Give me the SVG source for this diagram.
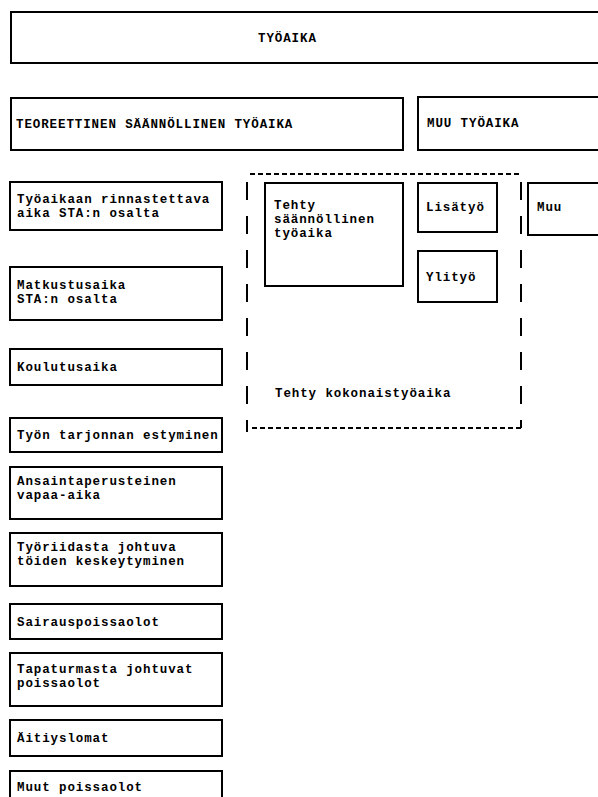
<svg xmlns="http://www.w3.org/2000/svg" width="598" height="797" viewBox="0 0 598 797">
<style>
.b{fill:none;stroke:#000;stroke-width:2}
.t{font-family:"Liberation Mono","DejaVu Sans Mono",monospace;font-size:12.5px;letter-spacing:0.9px;font-weight:bold;fill:#000}
.dh{fill:none;stroke:#000;stroke-width:2;stroke-dasharray:5 3}
.dv{fill:none;stroke:#000;stroke-width:2;stroke-dasharray:18 16}
</style>
<rect width="598" height="797" fill="#fff"/>
<g id="tyoaika"><rect class="b" x="11" y="12" width="600" height="51"/><text class="t" x="258" y="42">TYÖAIKA</text></g>
<g id="teoreettinen"><rect class="b" x="11" y="98" width="392" height="52"/><text class="t" x="16" y="128">TEOREETTINEN SÄÄNNÖLLINEN TYÖAIKA</text></g>
<g id="muu-tyoaika"><rect class="b" x="418" y="97" width="200" height="53"/><text class="t" x="427" y="127">MUU TYÖAIKA</text></g>
<g id="tehty-kokonaistyoaika">
<line class="dh" x1="250" y1="174" x2="520" y2="174"/>
<line class="dh" x1="252" y1="428" x2="522" y2="428"/>
<line class="dv" x1="247" y1="182" x2="247" y2="432"/>
<line class="dv" x1="521" y1="182" x2="521" y2="428"/>
<text class="t" x="275" y="397">Tehty kokonaistyöaika</text>
</g>
<g id="rinnastettava"><rect class="b" x="10" y="182" width="212" height="48"/><text class="t" x="17" y="203">Työaikaan rinnastettava</text><text class="t" x="17" y="217">aika STA:n osalta</text></g>
<g id="matkustusaika"><rect class="b" x="10" y="267" width="212" height="53"/><text class="t" x="17" y="289">Matkustusaika</text><text class="t" x="17" y="303">STA:n osalta</text></g>
<g id="koulutusaika"><rect class="b" x="10" y="349" width="212" height="36"/><text class="t" x="17" y="371">Koulutusaika</text></g>
<g id="tarjonta"><rect class="b" x="10" y="418" width="212" height="34"/><text class="t" x="17" y="439">Työn tarjonnan estyminen</text></g>
<g id="ansainta"><rect class="b" x="10" y="467" width="212" height="52"/><text class="t" x="17" y="485">Ansaintaperusteinen</text><text class="t" x="17" y="499">vapaa-aika</text></g>
<g id="tyoriita"><rect class="b" x="10" y="533" width="212" height="53"/><text class="t" x="17" y="551">Työriidasta johtuva</text><text class="t" x="17" y="565">töiden keskeytyminen</text></g>
<g id="sairaus"><rect class="b" x="10" y="604" width="212" height="35"/><text class="t" x="17" y="626">Sairauspoissaolot</text></g>
<g id="tapaturma"><rect class="b" x="10" y="653" width="212" height="53"/><text class="t" x="17" y="673">Tapaturmasta johtuvat</text><text class="t" x="17" y="687">poissaolot</text></g>
<g id="aitiys"><rect class="b" x="10" y="720" width="212" height="36"/><text class="t" x="17" y="742">Äitiyslomat</text></g>
<g id="muut-poissaolot"><rect class="b" x="10" y="771" width="212" height="40"/><text class="t" x="17" y="791">Muut poissaolot</text></g>
<g id="tehty-saannollinen"><rect class="b" x="265" y="183" width="138" height="103"/><text class="t" x="274" y="209">Tehty</text><text class="t" x="274" y="223">säännöllinen</text><text class="t" x="274" y="237">työaika</text></g>
<g id="lisatyo"><rect class="b" x="418" y="183" width="79" height="49"/><text class="t" x="426" y="211">Lisätyö</text></g>
<g id="ylityo"><rect class="b" x="418" y="251" width="79" height="51"/><text class="t" x="426" y="281">Ylityö</text></g>
<g id="muu"><rect class="b" x="528" y="183" width="100" height="52"/><text class="t" x="537" y="211">Muu</text></g>
<g id="connectors"/>
</svg>
